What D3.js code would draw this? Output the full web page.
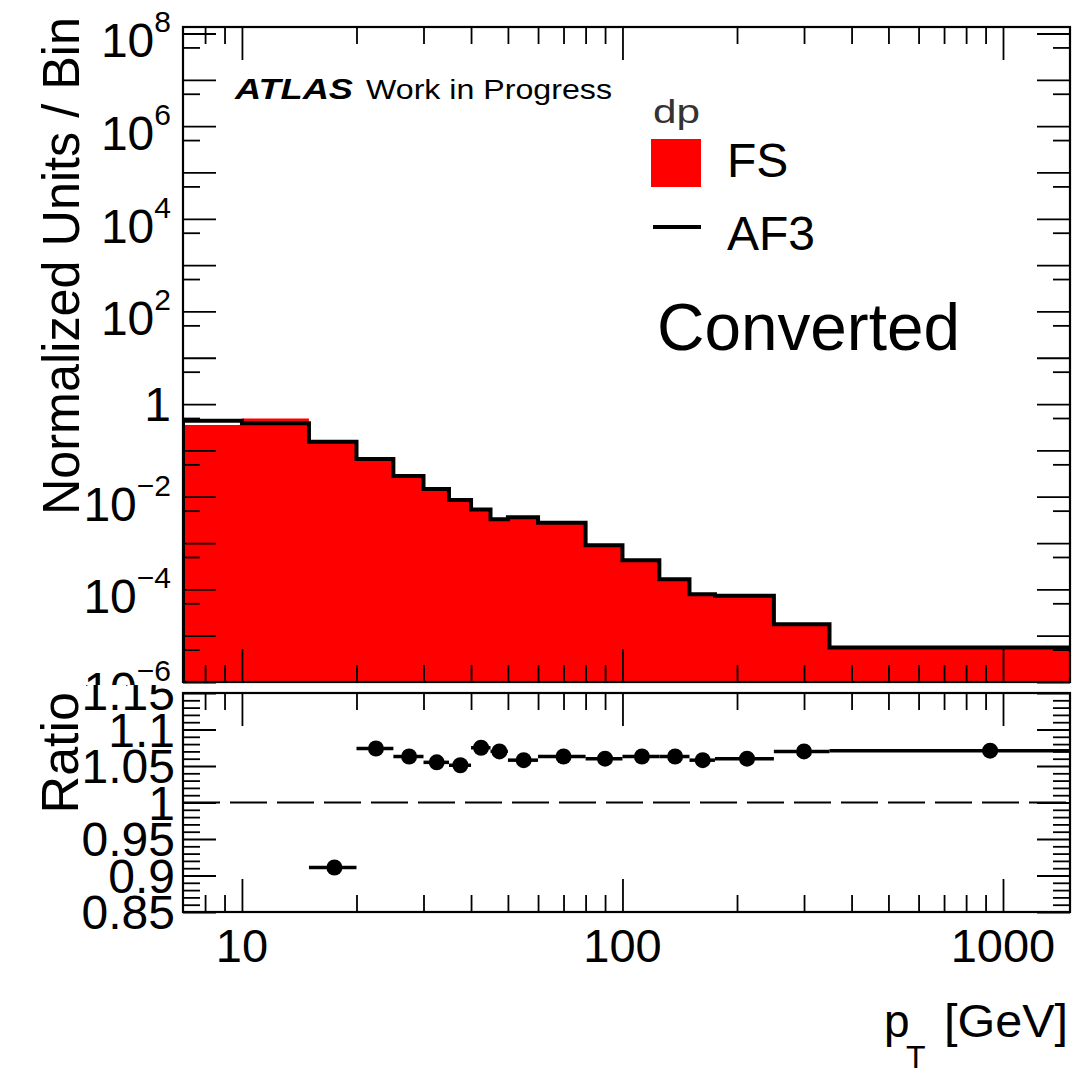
<!DOCTYPE html>
<html><head><meta charset="utf-8">
<script src="https://cdn.jsdelivr.net/npm/d3@7"></script>
<style>
html,body{margin:0;padding:0;background:#fff;}
svg{display:block;font-family:"Liberation Sans",Arial,Helvetica,sans-serif;}
</style></head>
<body>
<svg id="c" width="1077" height="1072"></svg>
<script>
// ---- data ----
const binEdges = [7,10,15,20,25,30,35,40,45,50,60,80,100,125,150,175,250,350,1500];
const fsValues = [0.352,0.491,0.168,0.0604,0.0262,0.0138,0.00804,0.00495,0.00307,0.00342,0.00257,0.000850,0.000402,0.000156,7.44e-5,6.83e-5,1.65e-5,5.19e-6];
const af3Values = [0.436,0.383,0.153,0.0649,0.0279,0.0146,0.00845,0.00532,0.00328,0.00362,0.00273,0.000901,0.000427,0.000166,7.87e-5,7.24e-5,1.77e-5,5.56e-6];
const ratioValues = [null,null,0.911,1.074,1.063,1.055,1.051,1.075,1.070,1.058,1.063,1.060,1.063,1.063,1.058,1.060,1.070,1.071];
const mainYExponents = [8,6,4,2,0,-2,-4,-6];
const ratioTickLabels = ["0.85","0.9","0.95","1","1.05","1.1","1.15"];
const xTickLabels = [10,100,1000];
const legendEntries = ["FS","AF3"];

// ---- geometry ----
const L=183, R=1070, mT=27, mB=682, rT=693, rB=912, padCut=685;
const svg = d3.select("#c");
const x = d3.scaleLog().domain([7,1500]).range([L,R]);
const y = d3.scaleLog().domain([1e-6, Math.pow(10,8.14)]).range([mB,mT]);
const yr = d3.scaleLinear().domain([0.85,1.15]).range([rB,rT]);

const defs = svg.append("defs");
defs.append("clipPath").attr("id","mainClip").append("rect").attr("x",L).attr("y",mT).attr("width",R-L).attr("height",mB-mT);
defs.append("clipPath").attr("id","ratioClip").append("rect").attr("x",L).attr("y",rT).attr("width",R-L).attr("height",rB-rT);
defs.append("clipPath").attr("id","mainPad").append("rect").attr("x",0).attr("y",0).attr("width",1077).attr("height",padCut);
defs.append("clipPath").attr("id","ratioPad").append("rect").attr("x",0).attr("y",padCut).attr("width",1077).attr("height",1072-padCut);

const bins = fsValues.map((v,i)=>({lo:binEdges[i],hi:binEdges[i+1],fs:v,af3:af3Values[i],ratio:ratioValues[i]}));

// ---- main histogram ----
const gMain = svg.append("g").attr("clip-path","url(#mainClip)");
const fsPts = [];
bins.forEach(d=>{fsPts.push([d.lo,d.fs]);fsPts.push([d.hi,d.fs]);});
gMain.append("path")
  .attr("d", d3.area().x(p=>x(p[0])).y0(mB+3).y1(p=>y(p[1]))(fsPts))
  .attr("fill","#ff0000");

const stepPts = [[binEdges[0], y.domain()[0]]];
bins.forEach(d=>{stepPts.push([d.lo,d.af3]);stepPts.push([d.hi,d.af3]);});
gMain.append("path").attr("d", d3.line().x(p=>x(p[0])).y(p=>y(p[1]))(stepPts))
  .attr("fill","none").attr("stroke","#000").attr("stroke-width",4).attr("stroke-linejoin","miter");

// ---- ratio ----
const gR = svg.append("g").attr("clip-path","url(#ratioClip)");
gR.append("line").attr("x1",L).attr("x2",R).attr("y1",yr(1)).attr("y2",yr(1))
  .attr("stroke","#000").attr("stroke-width",2).attr("stroke-dasharray","37,10");
const rb = bins.filter(d=>d.ratio!==null);
gR.selectAll("line.err").data(rb).join("line").attr("class","err")
  .attr("x1",d=>x(d.lo)).attr("x2",d=>x(d.hi)).attr("y1",d=>yr(d.ratio)).attr("y2",d=>yr(d.ratio))
  .attr("stroke","#000").attr("stroke-width",3.5);
gR.selectAll("circle").data(rb).join("circle")
  .attr("cx",d=>x((d.lo+d.hi)/2)).attr("cy",d=>yr(d.ratio)).attr("r",8).attr("fill","#000");

// ---- ticks via d3 axes ----
function ticksOnly(axis, tx, ty){
  const g = svg.append("g").attr("transform",`translate(${tx},${ty})`).call(axis);
  g.select(".domain").remove();
  g.selectAll("text").remove();
  g.selectAll("line").attr("stroke","#000").attr("stroke-width",1.8);
  return g;
}
const xMajor = [10,100,1000];
const xMinor = [8,9,20,30,40,50,60,70,80,90,200,300,400,500,600,700,800,900];
[[mT,mB],[rT,rB]].forEach(([t,b])=>{
  ticksOnly(d3.axisBottom(x).tickValues(xMajor).tickSize(-33).tickFormat(""),0,b);
  ticksOnly(d3.axisBottom(x).tickValues(xMinor).tickSize(-17).tickFormat(""),0,b);
  ticksOnly(d3.axisTop(x).tickValues(xMajor).tickSize(-33).tickFormat(""),0,t);
  ticksOnly(d3.axisTop(x).tickValues(xMinor).tickSize(-17).tickFormat(""),0,t);
});
const yMajor = d3.range(-6,9).map(k=>Math.pow(10,k));
const yMinor = d3.range(-6,8).map(k=>5*Math.pow(10,k));
ticksOnly(d3.axisLeft(y).tickValues(yMajor).tickSize(-33).tickFormat(""),L,0);
ticksOnly(d3.axisLeft(y).tickValues(yMinor).tickSize(-17).tickFormat(""),L,0);
ticksOnly(d3.axisRight(y).tickValues(yMajor).tickSize(-33).tickFormat(""),R,0);
ticksOnly(d3.axisRight(y).tickValues(yMinor).tickSize(-17).tickFormat(""),R,0);
const rMajor = ratioTickLabels.map(Number);
const rMinor = d3.range(85,116).map(v=>v/100).filter(v=>Math.round(v*100)%5!==0);
ticksOnly(d3.axisLeft(yr).tickValues(rMajor).tickSize(-33).tickFormat(""),L,0);
ticksOnly(d3.axisLeft(yr).tickValues(rMinor).tickSize(-17).tickFormat(""),L,0);
ticksOnly(d3.axisRight(yr).tickValues(rMajor).tickSize(-33).tickFormat(""),R,0);
ticksOnly(d3.axisRight(yr).tickValues(rMinor).tickSize(-17).tickFormat(""),R,0);

// ---- frames ----
svg.append("rect").attr("x",L).attr("y",mT).attr("width",R-L).attr("height",mB-mT).attr("fill","none").attr("stroke","#000").attr("stroke-width",2.2);
svg.append("rect").attr("x",L).attr("y",rT).attr("width",R-L).attr("height",rB-rT).attr("fill","none").attr("stroke","#000").attr("stroke-width",2.2);

// ---- main y labels ----
const gML = svg.append("g").attr("clip-path","url(#mainPad)");
mainYExponents.forEach(k=>{
  const ty = y(Math.pow(10,k));
  if(k===0){
    gML.append("text").attr("x",171).attr("y",ty+17).attr("text-anchor","end").style("font-size","48px").text("1");
  } else {
    const t = gML.append("text").attr("x",171).attr("y",ty+24).attr("text-anchor","end").style("font-size","48px");
    t.append("tspan").text("10");
    t.append("tspan").attr("dy",-25).style("font-size","30px").text((k<0?"\u2212":"")+Math.abs(k));
  }
});
gML.append("text").attr("transform","translate(79,17) rotate(-90)").attr("text-anchor","end")
  .style("font-size","52px").attr("textLength",498).attr("lengthAdjust","spacingAndGlyphs").text("Normalized Units / Bin");

// ---- ratio labels ----
const gRL = svg.append("g").attr("clip-path","url(#ratioPad)");
ratioTickLabels.forEach(s=>{
  gRL.append("text").attr("x",175).attr("y",yr(+s)+17).attr("text-anchor","end").style("font-size","48px").text(s);
});
gRL.append("text").attr("transform","translate(78,692) rotate(-90)").attr("text-anchor","end")
  .style("font-size","52px").text("Ratio");

// ---- x labels ----
xTickLabels.forEach(v=>{
  svg.append("text").attr("x",x(v)).attr("y",962).attr("text-anchor","middle").style("font-size","47px").text(v);
});
svg.append("text").attr("x",884).attr("y",1037).style("font-size","46px").text("p");
svg.append("text").attr("x",906).attr("y",1068).style("font-size","32px").text("T");
svg.append("text").attr("x",944).attr("y",1037).style("font-size","46px").attr("textLength",124).attr("lengthAdjust","spacingAndGlyphs").text("[GeV]");

// ---- ATLAS label ----
svg.append("text").attr("x",235).attr("y",99).style("font-size","30px").style("font-weight","bold").style("font-style","italic")
  .attr("textLength",118).attr("lengthAdjust","spacingAndGlyphs").text("ATLAS");
svg.append("text").attr("x",366).attr("y",99).style("font-size","28px")
  .attr("textLength",246).attr("lengthAdjust","spacingAndGlyphs").text("Work in Progress");

// ---- legend ----
svg.append("text").attr("x",653).attr("y",123).style("font-size","33px").attr("fill","#333")
  .attr("textLength",47).attr("lengthAdjust","spacingAndGlyphs").text("dp");
svg.append("rect").attr("x",651).attr("y",139).attr("width",50).attr("height",48).attr("fill","#ff0000");
svg.append("line").attr("x1",653).attr("x2",701).attr("y1",227).attr("y2",227).attr("stroke","#000").attr("stroke-width",4);
svg.append("text").attr("x",727).attr("y",177).style("font-size","48px").text(legendEntries[0]);
svg.append("text").attr("x",727).attr("y",250).style("font-size","48px").text(legendEntries[1]);
svg.append("text").attr("x",657).attr("y",350).style("font-size","66px")
  .attr("textLength",303).attr("lengthAdjust","spacingAndGlyphs").text("Converted");
</script>
</body></html>
